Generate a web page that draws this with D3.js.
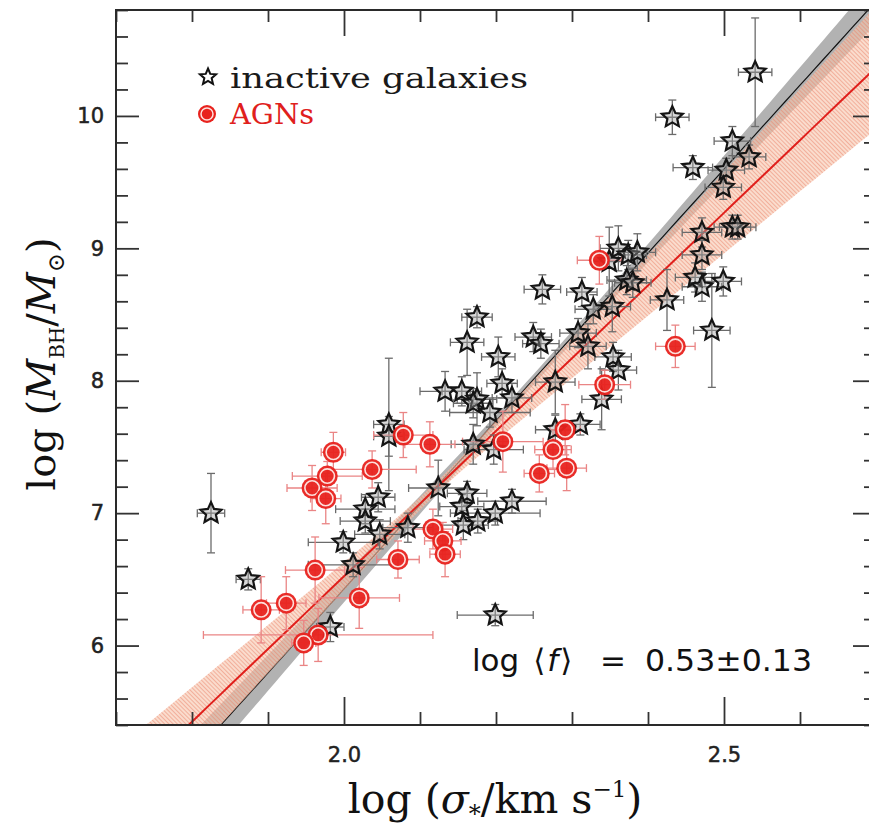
<!DOCTYPE html>
<html><head><meta charset="utf-8">
<script src="https://cdn.jsdelivr.net/npm/d3@7"></script>
<style>body{margin:0;background:#fff;} svg{display:block;}</style>
</head><body>
<script>
// ---------------- data ----------------
const inactiveSigma = [1.825,1.874,1.982,1.999,2.012,2.028,2.028,2.045,2.047,2.059,2.059,2.084,2.133,2.155,2.175,2.170,2.192,2.208,2.221,2.278,2.170,2.197,2.124,2.162,2.155,2.157,2.176,2.199,2.221,2.278,2.311,2.339,2.313,2.261,2.328,2.353,2.361,2.374,2.386,2.349,2.372,2.380,2.308,2.321,2.354,2.361,2.425,2.484,2.471,2.471,2.462,2.471,2.499,2.511,2.518,2.541,2.432,2.511,2.459,2.503,2.533,2.499,2.199,2.249,2.259,2.162,2.175,2.203];
const inactiveLogM  = [7.00,6.50,6.14,6.78,6.61,7.03,6.94,7.12,6.84,7.67,7.58,6.89,7.92,7.92,7.86,7.83,7.76,7.98,7.87,7.99,7.52,7.48,7.19,7.15,7.05,6.91,6.94,7.00,7.09,7.63,7.67,7.86,8.67,8.69,8.54,8.56,9.00,8.95,8.97,8.90,8.76,8.74,8.36,8.26,8.18,8.08,8.61,8.38,9.12,8.95,8.78,8.71,8.75,9.16,9.16,10.33,9.99,9.81,9.61,9.59,9.69,9.46,6.23,8.33,8.28,8.29,8.48,8.18];
const inactiveSigErr = [.018,.016,.018,.046,.059,.039,.033,.022,.033,.020,.020,.033,.033,.026,.026,.026,.053,.020,.026,.026,.029,.039,.039,.026,.029,.033,.026,.059,.045,.026,.026,.026,.020,.024,.024,.024,.024,.024,.024,.024,.026,.024,.024,.024,.024,.024,.022,.024,.026,.026,.026,.026,.024,.024,.024,.022,.022,.024,.026,.024,.022,.024,.050,.024,.024,.022,.020,.022];
const inactiveMErr = [.30,.08,.11,.08,.09,.11,.09,.11,.11,.50,.15,.11,.15,.11,.20,.11,.11,.11,.11,.24,.15,.11,.21,.09,.09,.11,.09,.09,.09,.11,.08,.23,.11,.11,.11,.19,.17,.11,.14,.26,.11,.11,.11,.17,.11,.15,.23,.43,.11,.11,.11,.11,.11,.09,.09,.41,.13,.11,.09,.09,.09,.09,.08,.11,.11,.25,.08,.15];

const agnSigma = [1.986,1.978,1.958,1.976,2.037,2.078,2.113,1.962,2.071,2.020,1.924,1.891,1.966,1.947,2.209,2.343,2.291,2.275,2.257,2.293,2.117,2.130,2.133,2.336,2.436];
const agnLogM  = [7.46,7.28,7.19,7.11,7.33,7.59,7.52,6.57,6.65,6.36,6.32,6.27,6.08,6.02,7.54,7.97,7.63,7.48,7.30,7.34,6.88,6.79,6.69,8.91,8.26];
const agnSigErr = [.016,.046,.033,.020,.058,.039,.033,.039,.028,.053,.026,.024,.151,.016,.053,.034,.020,.024,.020,.026,.026,.024,.020,.029,.026];
const agnMErr  = [.15,.11,.17,.19,.14,.17,.17,.25,.14,.23,.20,.25,.20,.17,.23,.11,.19,.15,.14,.17,.15,.14,.17,.18,.16];

// fit relations: logM = a + b (logσ - 2.3); band half width = sqrt(ea^2 + eb^2 (logσ - pivotBand)^2)
const inactiveFit = {a: 8.33, b: 6.34, ea: 0.04, eb: 0.37, pivotBand: 2.25};
const agnFit      = {a: 8.17, b: 5.49, ea: 0.045, eb: 0.80, pivotBand: 2.12};

const xMajor = [2.0, 2.5];
const xMajorLabels = ["2.0", "2.5"];
const xMinor = [1.7,1.8,1.9,2.1,2.2,2.3,2.4,2.6,2.7];
const yMajor = [6,7,8,9,10];
const yMinor = [5.4,5.6,5.8,6.2,6.4,6.6,6.8,7.2,7.4,7.6,7.8,8.2,8.4,8.6,8.8,9.2,9.4,9.6,9.8,10.2,10.4,10.6,10.8];

// ---------------- drawing ----------------
const W = 869, H = 827;
const L = 116, R = 876, T = 10, B = 725;
const svg = d3.select("body").append("svg").attr("width", W).attr("height", H);
const x = d3.scaleLinear().domain([1.7, 2.7]).range([L, R]);
const y = d3.scaleLinear().domain([5.4, 10.8]).range([B, T]);

const defs = svg.append("defs");
defs.append("clipPath").attr("id", "clip").append("rect").attr("x", L).attr("y", T).attr("width", R - L).attr("height", B - T);
const pat = defs.append("pattern").attr("id", "hatch").attr("patternUnits", "userSpaceOnUse")
  .attr("width", 3).attr("height", 3).attr("patternTransform", "rotate(-45)");
pat.append("rect").attr("width", 3).attr("height", 3).attr("fill", "#f6c4ac").attr("fill-opacity", 0.6);
pat.append("line").attr("x1", 0).attr("y1", 0).attr("x2", 0).attr("y2", 3).attr("stroke", "#ea7e64").attr("stroke-width", 1.2).attr("stroke-opacity", 0.8);

const plot = svg.append("g").attr("clip-path", "url(#clip)");
const grid = d3.range(1.6, 2.801, 0.01);
function fitY(f, s) { return f.a + f.b * (s - 2.3); }
function hw(f, s) { return Math.sqrt(f.ea * f.ea + f.eb * f.eb * (s - f.pivotBand) ** 2); }
const area = f => d3.area().x(s => x(s)).y0(s => y(fitY(f, s) - hw(f, s))).y1(s => y(fitY(f, s) + hw(f, s)));
const line = f => d3.line().x(s => x(s)).y(s => y(fitY(f, s)));

plot.append("path").datum(grid).attr("d", area(inactiveFit)).attr("fill", "#b2b2b2");
plot.append("path").datum(grid).attr("d", line(inactiveFit)).attr("fill", "none").attr("stroke", "#111").attr("stroke-width", 1.2);
plot.append("path").datum(grid).attr("d", area(agnFit)).attr("fill", "url(#hatch)");
plot.append("path").datum(grid).attr("d", line(agnFit)).attr("fill", "none").attr("stroke", "#e0201c").attr("stroke-width", 2);

const inactive = inactiveSigma.map((s, i) => ({s, m: inactiveLogM[i], es: inactiveSigErr[i], em: inactiveMErr[i]}));
const agn = agnSigma.map((s, i) => ({s, m: agnLogM[i], es: agnSigErr[i], em: agnMErr[i]}));

function errorBars(g, data, color, cap) {
  const e = g.selectAll("g.e").data(data).join("g").attr("stroke", color).attr("stroke-width", 1.3).attr("fill", "none");
  e.append("line").attr("x1", d => x(d.s - d.es)).attr("x2", d => x(d.s + d.es)).attr("y1", d => y(d.m)).attr("y2", d => y(d.m));
  e.append("line").attr("x1", d => x(d.s)).attr("x2", d => x(d.s)).attr("y1", d => y(d.m - d.em)).attr("y2", d => y(d.m + d.em));
  e.append("line").attr("x1", d => x(d.s - d.es)).attr("x2", d => x(d.s - d.es)).attr("y1", d => y(d.m) - cap).attr("y2", d => y(d.m) + cap);
  e.append("line").attr("x1", d => x(d.s + d.es)).attr("x2", d => x(d.s + d.es)).attr("y1", d => y(d.m) - cap).attr("y2", d => y(d.m) + cap);
  e.append("line").attr("y1", d => y(d.m - d.em)).attr("y2", d => y(d.m - d.em)).attr("x1", d => x(d.s) - cap).attr("x2", d => x(d.s) + cap);
  e.append("line").attr("y1", d => y(d.m + d.em)).attr("y2", d => y(d.m + d.em)).attr("x1", d => x(d.s) - cap).attr("x2", d => x(d.s) + cap);
}
function starPath(r, k) {
  const pts = [];
  for (let i = 0; i < 10; i++) {
    const a = -Math.PI / 2 + i * Math.PI / 5, rr = i % 2 ? r * k : r;
    pts.push([rr * Math.cos(a), rr * Math.sin(a)]);
  }
  return "M" + pts.map(p => p[0].toFixed(2) + "," + p[1].toFixed(2)).join("L") + "Z";
}
const pts = svg.append("g").attr("clip-path", "url(#clip)");
errorBars(pts.append("g"), inactive, "#6b6b6b", 4);
errorBars(pts.append("g"), agn, "#ea8585", 4);
pts.append("g").selectAll("path").data(inactive).join("path")
  .attr("transform", d => `translate(${x(d.s)},${y(d.m)})`)
  .attr("d", starPath(11, 0.47)).attr("fill", "#a0a0a0").attr("fill-opacity", 0.4)
  .attr("stroke", "#151515").attr("stroke-width", 2.2).attr("stroke-linejoin", "miter");
const ag = pts.append("g").selectAll("g").data(agn).join("g").attr("transform", d => `translate(${x(d.s)},${y(d.m)})`);
ag.append("circle").attr("r", 10.5).attr("fill", "#e8221d").attr("fill-opacity", 0.95);
ag.append("circle").attr("r", 7.2).attr("fill", "none").attr("stroke", "#fde0dc").attr("stroke-width", 1.6);

// axes
const axStyle = g => { g.select(".domain").remove(); g.selectAll(".tick line").attr("stroke", "#333").attr("stroke-width", 1.8); };
const labStyle = t => t.style("font-family", "DejaVu Sans").style("font-size", "21px").attr("fill", "#222").attr("stroke", "#222").attr("stroke-width", 0.5);
svg.append("g").attr("transform", `translate(0,${B})`).call(d3.axisBottom(x).tickValues(xMajor).tickSize(-28).tickPadding(22).tickFormat((d, i) => xMajorLabels[i])).call(axStyle)
  .selectAll("text").call(labStyle);
svg.append("g").attr("transform", `translate(0,${B})`).call(d3.axisBottom(x).tickValues(xMinor).tickSize(-13).tickFormat("")).call(axStyle);
svg.append("g").attr("transform", `translate(0,${T})`).call(d3.axisTop(x).tickValues(xMajor).tickSize(-26).tickFormat("")).call(axStyle);
svg.append("g").attr("transform", `translate(0,${T})`).call(d3.axisTop(x).tickValues(xMinor).tickSize(-12).tickFormat("")).call(axStyle);
svg.append("g").attr("transform", `translate(${L},0)`).call(d3.axisLeft(y).tickValues(yMajor).tickSize(-23).tickPadding(12).tickFormat(d3.format("d"))).call(axStyle)
  .selectAll("text").call(labStyle);
svg.append("g").attr("transform", `translate(${L},0)`).call(d3.axisLeft(y).tickValues(yMinor).tickSize(-12).tickFormat("")).call(axStyle);
svg.append("g").attr("transform", `translate(${R},0)`).call(d3.axisRight(y).tickValues(yMajor).tickSize(-23).tickFormat("")).call(axStyle);
svg.append("g").attr("transform", `translate(${R},0)`).call(d3.axisRight(y).tickValues(yMinor).tickSize(-12).tickFormat("")).call(axStyle);
svg.append("rect").attr("x", L).attr("y", T).attr("width", R - L).attr("height", B - T).attr("fill", "none").attr("stroke", "#2a2a2a").attr("stroke-width", 2);

// legend
svg.append("path").attr("transform", "translate(208,77)").attr("d", starPath(8.5, 0.45)).attr("fill", "#fff").attr("stroke", "#111").attr("stroke-width", 2);
const lg = svg.append("g").attr("transform", "translate(207,114)");
lg.append("circle").attr("r", 9).attr("fill", "#e8221d");
lg.append("circle").attr("r", 6).attr("fill", "none").attr("stroke", "#fde0dc").attr("stroke-width", 1.5);
svg.append("text").attr("x", 230).attr("y", 88).text("inactive galaxies").style("font-family", "DejaVu Serif").style("font-size", "27px").attr("fill", "#1a1a1a").attr("textLength", 298).attr("lengthAdjust", "spacingAndGlyphs");
svg.append("text").attr("x", 230).attr("y", 124).text("AGNs").style("font-family", "DejaVu Serif").style("font-size", "27px").attr("fill", "#e0201c").attr("textLength", 84).attr("lengthAdjust", "spacingAndGlyphs");

// annotation
const annStyle = t => t.style("font-family", "DejaVu Sans").style("font-size", "31px").attr("fill", "#111");
const ann = svg.append("text").attr("x", 472).attr("y", 671).call(annStyle);
ann.append("tspan").text("log ");
ann.append("tspan").text("⟨").attr("dx", 4);
ann.append("tspan").text("f").style("font-style", "italic").attr("dx", 2);
ann.append("tspan").text("⟩").attr("dx", 2);
svg.append("text").attr("x", 600).attr("y", 671).text("=").call(annStyle);
svg.append("text").attr("x", 645).attr("y", 671).text("0.53±0.13").call(annStyle).attr("textLength", 167).attr("lengthAdjust", "spacingAndGlyphs");

// axis titles
const xt = svg.append("text").attr("x", 495).attr("y", 813).attr("text-anchor", "middle").style("font-family", "DejaVu Serif").style("font-size", "41px").attr("fill", "#111");
xt.append("tspan").text("log (");
xt.append("tspan").text("σ").style("font-style", "italic");
xt.append("tspan").text("*").attr("dy", 9).style("font-size", "24px");
xt.append("tspan").text("/km s").attr("dy", -9);
xt.append("tspan").text("−1").attr("dy", -16).style("font-size", "23px");
xt.append("tspan").text(")").attr("dy", 16);

const yt = svg.append("text").attr("transform", "translate(55,364) rotate(-90)").attr("text-anchor", "middle").style("font-family", "DejaVu Serif").style("font-size", "40px").attr("fill", "#111");
yt.append("tspan").text("log (");
yt.append("tspan").text("M").style("font-style", "italic");
yt.append("tspan").text("BH").attr("dy", 9).style("font-size", "20px");
yt.append("tspan").text("/").attr("dy", -9);
yt.append("tspan").text("M").style("font-style", "italic");
yt.append("tspan").text("⊙").attr("dy", 9).style("font-size", "23px");
yt.append("tspan").text(")").attr("dy", -9);
</script>
</body></html>
